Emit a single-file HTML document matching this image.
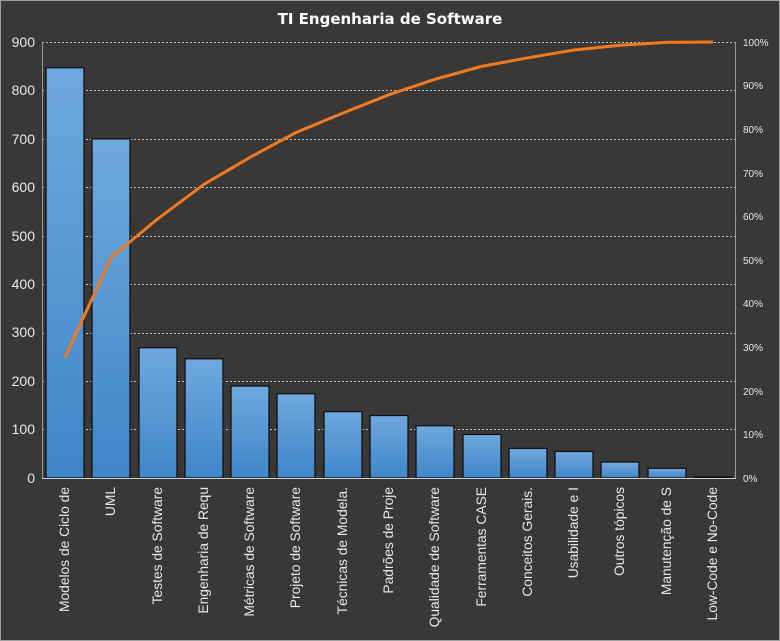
<!DOCTYPE html>
<html><head><meta charset="utf-8"><style>
html,body{margin:0;padding:0;background:#3a3837;}
svg{display:block;font-family:"Liberation Sans","DejaVu Sans",sans-serif;}
</style></head><body>
<svg width="780" height="641" viewBox="0 0 780 641" xmlns="http://www.w3.org/2000/svg">
<defs>
<linearGradient id="g" x1="0" y1="0" x2="0" y2="1">
<stop offset="0" stop-color="#6fa8de"/><stop offset="1" stop-color="#3f86c8"/>
</linearGradient>
</defs>
<rect x="0.5" y="0.5" width="779" height="640" fill="#3a3837" stroke="#a0a0a0"/>
<text x="390" y="24" fill="#fff" font-size="15" font-weight="bold" text-anchor="middle" font-family="DejaVu Sans,sans-serif">TI Engenharia de Software</text>
<g stroke="#bdbdbd" stroke-dasharray="2,2" stroke-width="1">
<line x1="42" x2="736" y1="42.5" y2="42.5"/>
<line x1="42" x2="736" y1="90.5" y2="90.5"/>
<line x1="42" x2="736" y1="139.5" y2="139.5"/>
<line x1="42" x2="736" y1="187.5" y2="187.5"/>
<line x1="42" x2="736" y1="236.5" y2="236.5"/>
<line x1="42" x2="736" y1="284.5" y2="284.5"/>
<line x1="42" x2="736" y1="333.5" y2="333.5"/>
<line x1="42" x2="736" y1="381.5" y2="381.5"/>
<line x1="42" x2="736" y1="429.5" y2="429.5"/>
</g>
<line x1="42.5" y1="42" x2="42.5" y2="478" stroke="#9a9a9a"/>
<line x1="735.5" y1="42" x2="735.5" y2="478" stroke="#9a9a9a"/>
<g fill="#e8e8e8" font-size="14" text-anchor="end">
<text x="35" y="47">900</text><text x="35" y="95">800</text><text x="35" y="144">700</text><text x="35" y="192">600</text><text x="35" y="241">500</text><text x="35" y="289">400</text><text x="35" y="337">300</text><text x="35" y="386">200</text><text x="35" y="434">100</text><text x="35" y="483">0</text>
</g>
<g fill="#e8e8e8" font-size="10">
<text x="743" y="46">100%</text><text x="743" y="89">90%</text><text x="743" y="133">80%</text><text x="743" y="177">70%</text><text x="743" y="220">60%</text><text x="743" y="264">50%</text><text x="743" y="307">40%</text><text x="743" y="351">30%</text><text x="743" y="395">20%</text><text x="743" y="438">10%</text><text x="743" y="482">0%</text>
</g>
<g fill="url(#g)" stroke="#111" stroke-width="1.3">
<rect x="46" y="67.7" width="38" height="410.3"/>
<rect x="92" y="138.9" width="38" height="339.1"/>
<rect x="139" y="347.7" width="38" height="130.3"/>
<rect x="185" y="358.8" width="38" height="119.2"/>
<rect x="231" y="386" width="38" height="92"/>
<rect x="277" y="393.7" width="38" height="84.3"/>
<rect x="324" y="411.6" width="38" height="66.4"/>
<rect x="370" y="415.5" width="38" height="62.5"/>
<rect x="416" y="425.7" width="38" height="52.3"/>
<rect x="463" y="434.4" width="38" height="43.6"/>
<rect x="509" y="448.4" width="38" height="29.6"/>
<rect x="555" y="451.4" width="38" height="26.6"/>
<rect x="601" y="462" width="38" height="16"/>
<rect x="648" y="468.3" width="38" height="9.7"/>
<rect x="694" y="477" width="38" height="1"/>
</g>
<line x1="42" x2="736" y1="478.5" y2="478.5" stroke="#d0d0d0"/>
<polyline fill="none" stroke="#f07a22" stroke-width="3" stroke-linejoin="round" points="65,357.4 111,257.6 157,219.4 204,184.3 250,157.3 296,132.5 343,113 389,94.7 435,79.3 481,66.5 528,57.8 574,50 620,45.3 666,42.4 713,42"/>
<g fill="#e8e8e8" font-size="13.8" text-anchor="end">
<text transform="translate(69,487) rotate(-90)">Modelos de Ciclo de</text>
<text transform="translate(115,487) rotate(-90)">UML</text>
<text transform="translate(162,487) rotate(-90)">Testes de Software</text>
<text transform="translate(208,487) rotate(-90)">Engenharia de Requ</text>
<text transform="translate(254,487) rotate(-90)">Métricas de Software</text>
<text transform="translate(300,487) rotate(-90)">Projeto de Software</text>
<text transform="translate(347,487) rotate(-90)">Técnicas de Modela.</text>
<text transform="translate(393,487) rotate(-90)">Padrões de Proje</text>
<text transform="translate(439,487) rotate(-90)">Qualidade de Software</text>
<text transform="translate(486,487) rotate(-90)">Ferramentas CASE</text>
<text transform="translate(532,487) rotate(-90)">Conceitos Gerais.</text>
<text transform="translate(578,487) rotate(-90)">Usabilidade e I</text>
<text transform="translate(624,487) rotate(-90)">Outros tópicos</text>
<text transform="translate(671,487) rotate(-90)">Manutenção de S</text>
<text transform="translate(717,487) rotate(-90)">Low-Code e No-Code</text>
</g>
</svg>
</body></html>
